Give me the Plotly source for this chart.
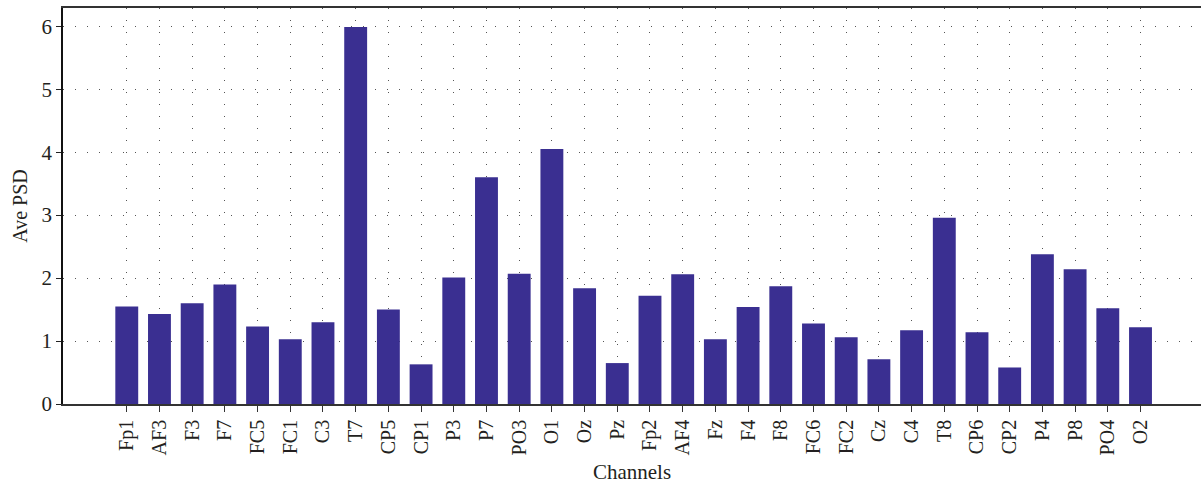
import plotly.graph_objects as go

# EEG channels and their average power spectral density
channels = ["Fp1", "AF3", "F3", "F7", "FC5", "FC1", "C3", "T7", "CP5", "CP1",
            "P3", "P7", "PO3", "O1", "Oz", "Pz", "Fp2", "AF4", "Fz", "F4",
            "F8", "FC6", "FC2", "Cz", "C4", "T8", "CP6", "CP2", "P4", "P8",
            "PO4", "O2"]
ave_psd = [1.55, 1.43, 1.60, 1.90, 1.23, 1.03, 1.30, 5.99, 1.50, 0.63,
           2.01, 3.60, 2.07, 4.05, 1.84, 0.65, 1.72, 2.06, 1.03, 1.54,
           1.87, 1.28, 1.06, 0.71, 1.17, 2.96, 1.14, 0.58, 2.38, 2.14,
           1.52, 1.22]
y_ticks = [0, 1, 2, 3, 4, 5, 6]

FONT = "Liberation Serif, Times New Roman, serif"
TEXT = "#231f20"
BAR = "#3a2f91"
GRID = "#555555"

fig = go.Figure(
    go.Bar(
        x=channels,
        y=ave_psd,
        width=0.7,
        marker=dict(color=BAR, line=dict(width=0)),
    )
)

fig.update_layout(
    width=1201,
    height=488,
    margin=dict(l=63, r=0, t=8, b=84),
    paper_bgcolor="white",
    plot_bgcolor="white",
    font=dict(family=FONT, size=20, color=TEXT),
    showlegend=False,
    bargap=0.3,
)

fig.update_xaxes(
    type="category",
    range=[-1.95, 32.85],
    tickangle=-90,
    ticks="outside",
    ticklen=6,
    tickwidth=1.2,
    tickcolor="#333333",
    showline=True,
    linecolor="#333333",
    linewidth=1.6,
    mirror=True,
    showgrid=True,
    gridcolor=GRID,
    gridwidth=1,
    griddash="1px,11px",
    tickfont=dict(family=FONT, size=20, color=TEXT),
    title=dict(text="Channels", font=dict(family=FONT, size=21, color=TEXT), standoff=10),
    automargin=False,
)

fig.update_yaxes(
    range=[0, 6.29],
    tickvals=y_ticks,
    ticks="outside",
    ticklen=5,
    tickwidth=1.2,
    tickcolor="#222222",
    showline=True,
    linecolor="#111111",
    linewidth=1.8,
    showgrid=True,
    gridcolor=GRID,
    gridwidth=1,
    griddash="1px,11px",
    zeroline=False,
    tickfont=dict(family=FONT, size=21, color=TEXT),
    title=dict(text="Ave PSD", font=dict(family=FONT, size=20, color=TEXT), standoff=8),
    automargin=False,
)

fig.write_html("out.html")
